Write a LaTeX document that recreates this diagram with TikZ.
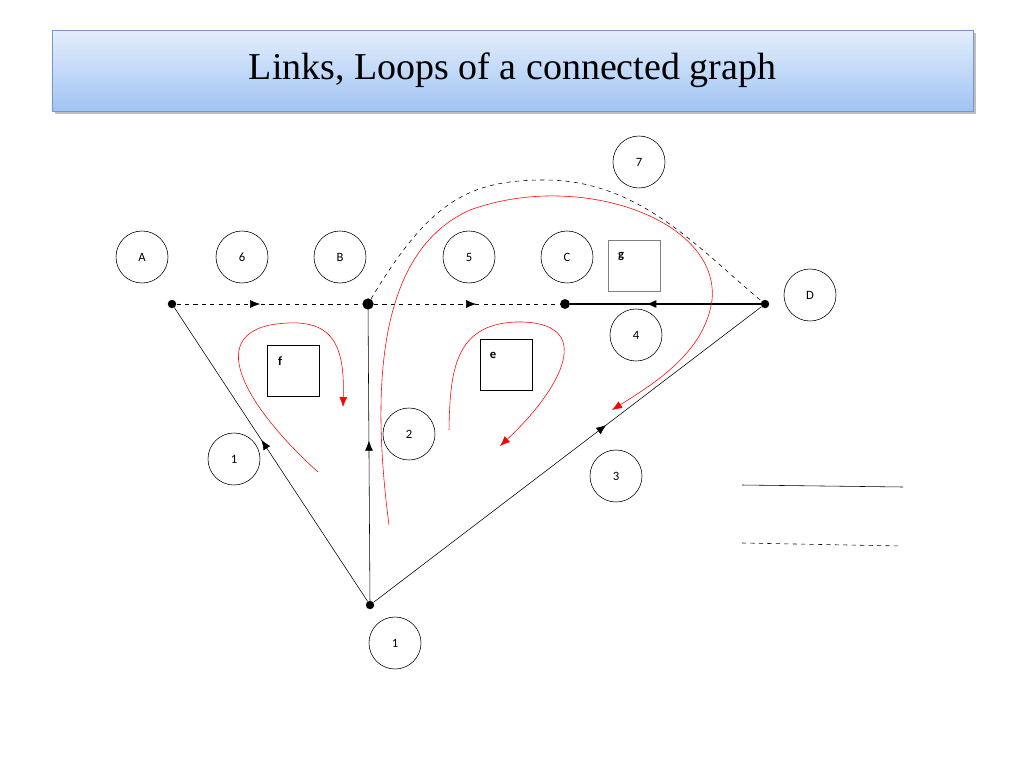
\documentclass[tikz,border=0pt]{standalone}
\usepackage{fontspec}
\setmainfont{Carlito}
\newfontfamily\titlefont{Liberation Serif}
\usetikzlibrary{arrows.meta,decorations.markings,shadows}
\definecolor{titletop}{RGB}{228,238,252}
\definecolor{titlebot}{RGB}{160,196,244}
\definecolor{titleline}{RGB}{120,150,200}
\begin{document}
\begin{tikzpicture}[
		x=0.025cm, y=-0.025cm,
		lbl/.style={circle, draw=black, minimum size=1.3cm, font=\small},
		blk/.style={rectangle, draw=black, minimum width=1.3cm, minimum height=1.27cm},
		dot/.style={circle, fill=black, inner sep=0pt, minimum size=6pt},
		midarrow/.style={postaction={decorate}, decoration={markings, mark=at position #1 with {\arrow{Latex[length=2.5mm,width=2mm]}}}},
		loop/.style={red, -{Latex[length=2.5mm,width=2mm]}}
	]
		\useasboundingbox (0,0) rectangle (1024,768);
		% title
		\node[draw=titleline, top color=titletop, bottom color=titlebot, drop shadow, minimum width=23.02cm, minimum height=2.02cm, font=\titlefont\fontsize{27}{32}\selectfont] (title) at (512.5,70.5) {Links, Loops of a connected graph};
		
		% labels
		\node[lbl] (lA) at (142,257) {A};
		\node[lbl] (l6) at (242,257) {6};
		\node[lbl] (lB) at (340,257) {B};
		\node[lbl] (l5) at (469,257) {5};
		\node[lbl] (lC) at (567,257) {C};
		\node[lbl] (l7) at (639,162) {7};
		\node[lbl] (lD) at (810,295) {D};
		\node[lbl] (l4) at (636,335) {4};
		\node[lbl] (l1) at (234,459) {1};
		\node[lbl] (l2) at (409,434) {2};
		\node[lbl] (l3) at (616,476) {3};
		\node[lbl] (l1b) at (395,643) {1};
		
		% meshes
		\node[blk, draw=gray] (g) at (634,266) {};
		\node[font=\small\bfseries] at (621,256) {g};
		\node[blk] (f) at (293,371) {};
		\node[font=\small\bfseries] at (280,361) {f};
		\node[blk] (e) at (506,365) {};
		\node[font=\small\bfseries] at (493,355) {e};
		
		% vertices
		\node[dot] (a) at (172,304) {};
		\node[dot, minimum size=8pt] (b) at (368,304) {};
		\node[dot, minimum size=7pt] (c) at (565,304) {};
		\node[dot] (d) at (765,304) {};
		\node[dot] (o) at (370,605) {};
		
		% branches
		\draw[dashed, midarrow=0.45] (a) -- (b);
		\draw[dashed, midarrow=0.55] (b) -- (c);
		\draw[thick, midarrow=0.6] (d) -- (c);
		\draw[midarrow=0.55] (o) -- (a);
		\draw[midarrow=0.55] (o) -- (b);
		\draw[midarrow=0.6] (o) -- (d);
		\draw[dashed] (b) .. controls (430,200) and (470,180) .. (545,180) .. controls (640,180) and (700,250) .. (d);
		
		% loops
		\draw[loop] (318,472) .. controls (260,420) and (200,340) .. (270,325) .. controls (330,315) and (345,340) .. (343,407);
		\draw[loop] (449,430) .. controls (450,370) and (455,325) .. (515,322) .. controls (600,320) and (560,390) .. (500,446);
		\draw[loop] (389,525) .. controls (370,380) and (380,250) .. (470,210) .. controls (580,170) and (720,220) .. (712,300) .. controls (705,350) and (660,380) .. (612,410);
		
		% legend
		\coordinate (s1) at (742,485);
		\coordinate (s2) at (903,487);
		\coordinate (t1) at (742,543);
		\coordinate (t2) at (901,546);
		\draw (s1) -- (s2);
		\draw[dashed] (t1) -- (t2);
	\end{tikzpicture}
\end{document}
